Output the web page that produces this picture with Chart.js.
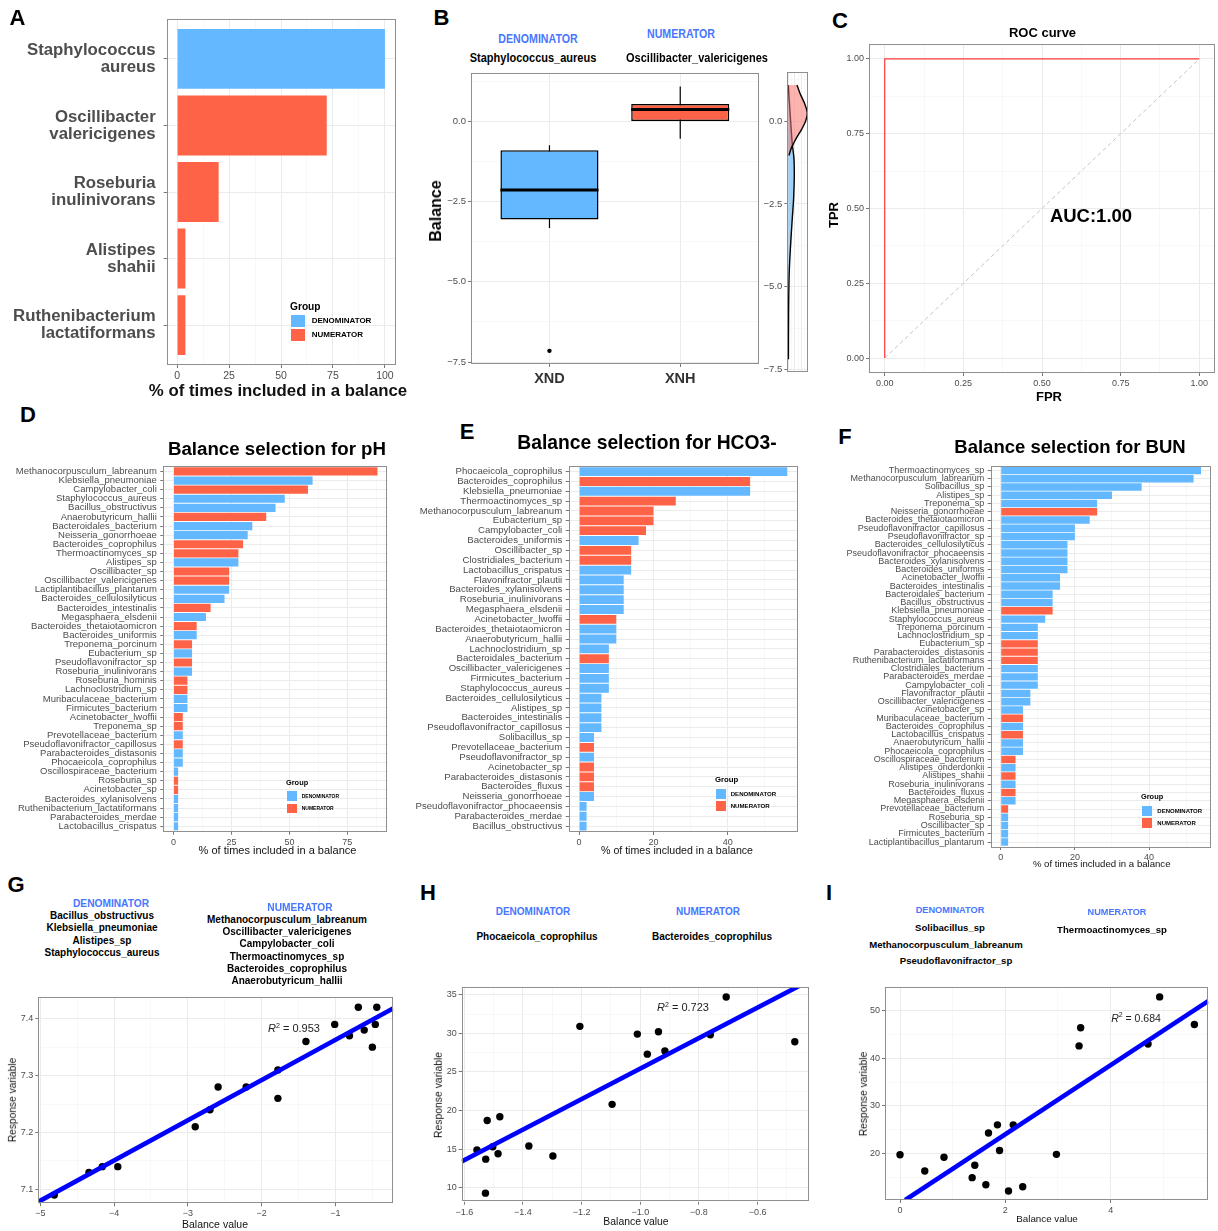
<!DOCTYPE html>
<html><head><meta charset="utf-8">
<script src="https://cdn.jsdelivr.net/npm/chart.js@4.4.1/dist/chart.umd.min.js"></script>
<style>
html,body{margin:0;padding:0;background:#fff;}
#root{position:relative;width:1218px;height:1231px;overflow:hidden;font-family:"Liberation Sans",Arial,sans-serif;}
canvas{position:absolute;}
.t{position:absolute;white-space:nowrap;transform:translate(-50%,-50%);line-height:1;}
.l{position:absolute;white-space:nowrap;transform:translate(0,-50%);line-height:1;}
.r{position:absolute;white-space:nowrap;transform:translate(-50%,-50%) rotate(-90deg);line-height:1;}
.bx{position:absolute;}
</style></head><body><div id="root"></div>
<script>
// ---------------- DATA ----------------
// Panel A
const aNames = [['Staphylococcus','aureus'],['Oscillibacter','valericigenes'],['Roseburia','inulinivorans'],['Alistipes','shahii'],['Ruthenibacterium','lactatiformans']];
const aValues = [100,72,20,4,4];
const aGroups = ['D','N','N','N','N'];
const aTicks = [0,25,50,75,100];

// Panel B (boxplot of balance)
const bCats = ['XND','XNH'];
const bLow = [-3.32,-0.54];
const bQ1 = [-3.06,0.01];
const bMed = [-2.14,0.37];
const bQ3 = [-0.90,0.54];
const bHigh = [-0.74,1.09];
const bOutY = [-7.15];
const bOutCat = [1];
const bTicks = [0,-2.5,-5,-7.5];
// density side panel
const redDensY = [1.09,0.84,0.55,0.25,0.0,-0.25,-0.5,-0.69,-0.84,-1.04];
const redDensX = [26,35,48,57,52,40,25,15,8,2];
const blueDensY = [1.09,0.3,-0.69,-1.14,-1.64,-2.33,-2.93,-3.72,-4.51,-5.6,-7.19];
const blueDensX = [0,5,12,17,18,16,12,7,3,1,0.3];

// Panel C (ROC)
const rocFPR = [0,0,1];
const rocTPR = [0,1,1];
const cTicks = [0,0.25,0.5,0.75,1];

// Panel D (pH)
const dNames = ['Methanocorpusculum_labreanum','Klebsiella_pneumoniae','Campylobacter_coli','Staphylococcus_aureus','Bacillus_obstructivus','Anaerobutyricum_hallii','Bacteroidales_bacterium','Neisseria_gonorrhoeae','Bacteroides_coprophilus','Thermoactinomyces_sp','Alistipes_sp','Oscillibacter_sp','Oscillibacter_valericigenes','Lactiplantibacillus_plantarum','Bacteroides_cellulosilyticus','Bacteroides_intestinalis','Megasphaera_elsdenii','Bacteroides_thetaiotaomicron','Bacteroides_uniformis','Treponema_porcinum','Eubacterium_sp','Pseudoflavonifractor_sp','Roseburia_inulinivorans','Roseburia_hominis','Lachnoclostridium_sp','Muribaculaceae_bacterium','Firmicutes_bacterium','Acinetobacter_lwoffii','Treponema_sp','Prevotellaceae_bacterium','Pseudoflavonifractor_capillosus','Parabacteroides_distasonis','Phocaeicola_coprophilus','Oscillospiraceae_bacterium','Roseburia_sp','Acinetobacter_sp','Bacteroides_xylanisolvens','Ruthenibacterium_lactatiformans','Parabacteroides_merdae','Lactobacillus_crispatus'];
const dValues = [88,60,58,48,44,40,34,32,30,28,28,24,24,24,22,16,14,10,10,8,8,8,8,6,6,6,6,4,4,4,4,4,4,2,2,2,2,2,2,2];
const dGroups = ['N','D','N','D','D','N','D','D','N','N','D','N','N','D','D','N','D','N','D','N','D','N','D','N','N','D','D','N','N','D','N','D','D','D','N','N','D','D','D','D'];
const dTicks = [0,25,50,75];

// Panel E (HCO3-)
const eNames = ['Phocaeicola_coprophilus','Bacteroides_coprophilus','Klebsiella_pneumoniae','Thermoactinomyces_sp','Methanocorpusculum_labreanum','Eubacterium_sp','Campylobacter_coli','Bacteroides_uniformis','Oscillibacter_sp','Clostridiales_bacterium','Lactobacillus_crispatus','Flavonifractor_plautii','Bacteroides_xylanisolvens','Roseburia_inulinivorans','Megasphaera_elsdenii','Acinetobacter_lwoffii','Bacteroides_thetaiotaomicron','Anaerobutyricum_hallii','Lachnoclostridium_sp','Bacteroidales_bacterium','Oscillibacter_valericigenes','Firmicutes_bacterium','Staphylococcus_aureus','Bacteroides_cellulosilyticus','Alistipes_sp','Bacteroides_intestinalis','Pseudoflavonifractor_capillosus','Solibacillus_sp','Prevotellaceae_bacterium','Pseudoflavonifractor_sp','Acinetobacter_sp','Parabacteroides_distasonis','Bacteroides_fluxus','Neisseria_gonorrhoeae','Pseudoflavonifractor_phocaeensis','Parabacteroides_merdae','Bacillus_obstructivus'];
const eValues = [56,46,46,26,20,20,18,16,14,14,14,12,12,12,12,10,10,10,8,8,8,8,8,6,6,6,6,4,4,4,4,4,4,4,2,2,2];
const eGroups = ['D','N','D','N','N','N','N','D','N','N','D','D','D','D','D','N','D','D','D','N','D','D','D','D','D','D','D','D','N','D','N','N','N','D','D','D','D'];
const eTicks = [0,20,40];

// Panel F (BUN)
const fNames = ['Thermoactinomyces_sp','Methanocorpusculum_labreanum','Solibacillus_sp','Alistipes_sp','Treponema_sp','Neisseria_gonorrhoeae','Bacteroides_thetaiotaomicron','Pseudoflavonifractor_capillosus','Pseudoflavonifractor_sp','Bacteroides_cellulosilyticus','Pseudoflavonifractor_phocaeensis','Bacteroides_xylanisolvens','Bacteroides_uniformis','Acinetobacter_lwoffii','Bacteroides_intestinalis','Bacteroidales_bacterium','Bacillus_obstructivus','Klebsiella_pneumoniae','Staphylococcus_aureus','Treponema_porcinum','Lachnoclostridium_sp','Eubacterium_sp','Parabacteroides_distasonis','Ruthenibacterium_lactatiformans','Clostridiales_bacterium','Parabacteroides_merdae','Campylobacter_coli','Flavonifractor_plautii','Oscillibacter_valericigenes','Acinetobacter_sp','Muribaculaceae_bacterium','Bacteroides_coprophilus','Lactobacillus_crispatus','Anaerobutyricum_hallii','Phocaeicola_coprophilus','Oscillospiraceae_bacterium','Alistipes_onderdonkii','Alistipes_shahii','Roseburia_inulinivorans','Bacteroides_fluxus','Megasphaera_elsdenii','Prevotellaceae_bacterium','Roseburia_sp','Oscillibacter_sp','Firmicutes_bacterium','Lactiplantibacillus_plantarum'];
const fValues = [54,52,38,30,26,26,24,20,20,18,18,18,18,16,16,14,14,14,12,10,10,10,10,10,10,10,10,8,8,6,6,6,6,6,6,4,4,4,4,4,4,2,2,2,2,2];
const fGroups = ['D','D','D','D','D','N','D','D','D','D','D','D','D','D','D','D','D','N','D','D','D','N','N','N','D','D','D','D','D','D','N','D','N','D','D','N','D','N','D','N','D','N','D','D','D','D'];
const fTicks = [0,20,40];

// Panel G
const gX = [-4.81,-4.34,-4.16,-3.95,-2.90,-2.70,-2.59,-2.21,-1.78,-1.78,-1.40,-1.01,-0.81,-0.69,-0.61,-0.50,-0.46,-0.44];
const gY = [7.09,7.13,7.14,7.14,7.21,7.24,7.28,7.28,7.31,7.26,7.36,7.39,7.37,7.42,7.38,7.35,7.39,7.42];
const gLineX = [-5.03,-0.22];
const gLineY = [7.078,7.418];
const gXTicks = [-5,-4,-3,-2,-1];
const gYTicks = [7.1,7.2,7.3,7.4];

// Panel H
const hX = [-1.557,-1.527,-1.528,-1.522,-1.503,-1.485,-1.479,-1.380,-1.298,-1.206,-1.096,-1.010,-0.976,-0.938,-0.916,-0.761,-0.707,-0.473];
const hY = [14.9,13.7,9.3,18.7,15.3,14.4,19.2,15.4,14.1,30.9,20.8,29.9,27.3,30.2,27.7,29.8,34.7,28.9];
const hLineX = [-1.609,-0.46];
const hLineY = [13.4,36.1];
const hXTicks = [-1.6,-1.4,-1.2,-1.0,-0.8,-0.6];
const hYTicks = [10,15,20,25,30,35];

// Panel I
const iX = [0,0.47,0.835,1.37,1.42,1.63,1.68,1.85,1.89,2.06,2.15,2.33,2.97,3.40,3.43,4.71,4.93,5.59];
const iY = [19.7,16.3,19.2,14.9,17.5,13.4,24.3,26.0,20.6,12.1,26.0,13.0,19.8,42.6,46.4,43.0,52.9,47.1];
const iLineX = [0.1,5.85];
const iLineY = [10.2,52.0];
const iXTicks = [0,2,4];
const iYTicks = [20,30,40,50];

// ---------------- STYLE / HELPERS ----------------
const BLUE = '#63B8FF', RED = '#FF6347', HEAD = '#4876FF';
const TICKC = '#4D4D4D';
Chart.defaults.font.family = '"Liberation Sans", Arial, sans-serif';
Chart.defaults.color = TICKC;
Chart.defaults.animation = false;
const root = document.getElementById('root');

Chart.register({
  id: 'pborder',
  afterDatasetsDraw(chart) {
    const a = chart.chartArea, c = chart.ctx;
    c.save(); c.strokeStyle = '#8f8f8f'; c.lineWidth = 1;
    c.strokeRect(Math.round(a.left) + 0.5, Math.round(a.top) + 0.5, Math.round(a.right - a.left) - 1, Math.round(a.bottom - a.top) - 1);
    c.restore();
  }
});

function place(L, T, R, B, lsWant, bsWant, ptWant = 8) {
  const cl = Math.floor(L - lsWant), ct = Math.floor(T - ptWant);
  const w = Math.ceil(R - cl + 14), h = Math.ceil(B - ct + bsWant);
  const cv = document.createElement('canvas');
  cv.width = w; cv.height = h;
  cv.style.left = cl + 'px'; cv.style.top = ct + 'px';
  cv.style.width = w + 'px'; cv.style.height = h + 'px';
  root.appendChild(cv);
  return { canvas: cv, ls: L - cl, bs: h - (B - ct), padding: { left: 0, top: T - ct, right: w - (R - cl), bottom: 0 } };
}
const near = (arr, v) => arr.some(m => Math.abs(m - v) < 1e-6);
function minorsOf(majors, min, max) {
  const step = majors.length > 1 ? majors[1] - majors[0] : 1;
  const out = [];
  for (let k = -1; k < majors.length; k++) {
    const v = (k < 0 ? majors[0] - step : majors[k]) + step / 2;
    if (v > min && v < max && !near(majors, v)) out.push(+v.toFixed(6));
  }
  return out;
}
function numAxis(min, max, majors, fmt, fontSize, side, pos, showMinor = true) {
  const minors = showMinor ? minorsOf(majors.slice().sort((a, b) => a - b), min, max) : [];
  const ax = {
    type: 'linear', min, max, offset: false,
    afterBuildTicks: s => { s.ticks = majors.concat(minors).sort((a, b) => a - b).map(v => ({ value: v })); },
    ticks: { autoSkip: false, maxRotation: 0, padding: 2, font: { size: fontSize }, color: TICKC,
      callback: v => (fmt && near(majors, v)) ? fmt(v) : '' },
    grid: { offset: false, drawTicks: true, tickLength: 3,
      color: c => (c.tick && near(majors, c.tick.value)) ? '#EBEBEB' : '#F3F3F3',
      lineWidth: c => (c.tick && near(majors, c.tick.value)) ? 1 : 0.6,
      tickColor: c => (fmt && c.tick && near(majors, c.tick.value)) ? '#777' : 'rgba(0,0,0,0)' },
    border: { display: false }
  };
  if (side === 'y') ax.afterFit = s => { s.width = pos.ls; };
  else ax.afterFit = s => { s.height = pos.bs; };
  return ax;
}
const minus = s => String(s).replace('-', '\u2212');
const baseOpts = pos => ({ responsive: false, animation: false, events: [], layout: { padding: pos.padding },
  plugins: { legend: { display: false }, tooltip: { enabled: false } } });

function barPanel(o) {
  const pos = place(o.L, o.T, o.R, o.B, o.ls, o.bs || 18, o.pt || 12);
  const n = o.names.length;
  const opts = baseOpts(pos);
  opts.indexAxis = 'y';
  opts.scales = {
    x: numAxis(o.xmin, o.xmax, o.ticks, v => String(v), o.tickFont, 'x', pos),
    y: { type: 'linear', min: -0.6, max: n - 0.4, reverse: true, offset: false,
      afterBuildTicks: s => { s.ticks = o.names.map((_, i) => ({ value: i })); },
      afterFit: s => { s.width = pos.ls; },
      ticks: { autoSkip: false, padding: o.labPad, color: TICKC, font: o.labFont, callback: v => o.names[v] },
      grid: { offset: false, color: '#EBEBEB', lineWidth: 1, tickColor: '#777', tickLength: 3 },
      border: { display: false } }
  };
  new Chart(pos.canvas, { type: 'bar',
    data: { datasets: [{ data: o.values.map((v, i) => ({ x: v, y: i })),
      backgroundColor: o.groups.map(g => g === 'N' ? RED : BLUE), borderWidth: 0,
      categoryPercentage: 1, barPercentage: 0.9 }] },
    options: opts });
}

function scatterPanel(o) {
  const pos = place(o.L, o.T, o.R, o.B, 30, 18);
  const opts = baseOpts(pos);
  opts.scales = {
    x: numAxis(o.xmin, o.xmax, o.xt, o.xf, 9, 'x', pos),
    y: numAxis(o.ymin, o.ymax, o.yt, o.yf, 9, 'y', pos)
  };
  new Chart(pos.canvas, { type: 'scatter', data: { datasets: [
    { type: 'scatter', data: o.xs.map((x, i) => ({ x, y: o.ys[i] })), pointRadius: 3.7, backgroundColor: '#000', borderWidth: 0, order: 1 },
    { type: 'line', data: o.lx.map((x, i) => ({ x, y: o.ly[i] })), borderColor: '#0000FF', borderWidth: 4.6, pointRadius: 0, order: 0, fill: false }
  ] }, options: opts });
}

// ---------------- PANEL A ----------------
barPanel({ names: aNames, values: aValues, groups: aGroups, L: 166.7, T: 19, R: 395.3, B: 365, ls: 166.7, pt: 30, bs: 32,
  xmin: -5, xmax: 105, ticks: aTicks, tickFont: 10.5, labPad: 8,
  labFont: { size: 16.8, weight: 'bold', lineHeight: 1.02 } });

// ---------------- PANEL B ----------------
(function () {
  const pos = place(471, 73.3, 758.7, 364, 30, 22);
  const opts = baseOpts(pos);
  opts.scales = {
    x: numAxis(0.4, 2.6, [1, 2], v => bCats[Math.round(v) - 1], 14, 'x', pos, false),
    y: numAxis(-7.56, 1.5, bTicks, v => minus(v.toFixed(1)), 9.5, 'y', pos)
  };
  opts.scales.x.ticks.font = { size: 14.5, weight: 'bold' };
  opts.scales.x.ticks.color = '#333';
  opts.scales.x.ticks.padding = 3;
  const ds = [];
  ds.push({ type: 'bar', data: bCats.map((c, i) => ({ x: i + 1, y: [bQ1[i], bQ3[i]] })),
    backgroundColor: [BLUE, RED], borderColor: '#000', borderWidth: 1.5, borderSkipped: false,
    categoryPercentage: 1, barPercentage: 0.75, order: 5 });
  bCats.forEach((c, i) => {
    ds.push({ type: 'line', data: [{ x: i + 1, y: bLow[i] }, { x: i + 1, y: bHigh[i] }], borderColor: '#000', borderWidth: 1.2, pointRadius: 0, order: 6 });
    ds.push({ type: 'line', data: [{ x: i + 1 - 0.375, y: bMed[i] }, { x: i + 1 + 0.375, y: bMed[i] }], borderColor: '#000', borderWidth: 3, pointRadius: 0, order: 1 });
  });
  ds.push({ type: 'scatter', data: bOutY.map((y, k) => ({ x: bOutCat[k], y })), pointRadius: 2.2, backgroundColor: '#000', borderWidth: 0, order: 0 });
  new Chart(pos.canvas, { type: 'bar', data: { datasets: ds }, options: opts });
})();

// density side panel
(function () {
  const pos = place(787.3, 71.7, 808.3, 375, 24, 4);
  const opts = baseOpts(pos);
  opts.indexAxis = 'y';
  opts.scales = {
    x: numAxis(-3, 60, [0, 20, 40], null, 9, 'x', pos),
    y: numAxis(-7.55, 1.49, bTicks, v => minus(v.toFixed(1)), 9.5, 'y', pos)
  };
  new Chart(pos.canvas, { type: 'line', data: { datasets: [
    { data: blueDensY.map((y, i) => ({ x: blueDensX[i], y })), fill: 'origin', backgroundColor: 'rgba(100,180,240,0.6)', borderColor: '#000', borderWidth: 1.4, pointRadius: 0, tension: 0.35, order: 1 },
    { data: redDensY.map((y, i) => ({ x: redDensX[i], y })), fill: 'origin', backgroundColor: 'rgba(248,118,109,0.55)', borderColor: '#000', borderWidth: 1.4, pointRadius: 0, tension: 0.35, order: 0 }
  ] }, options: opts });
})();

// ---------------- PANEL C ----------------
(function () {
  const pos = place(869, 44, 1215, 373, 30, 18);
  const opts = baseOpts(pos);
  opts.scales = {
    x: numAxis(-0.05, 1.05, cTicks, v => v.toFixed(2), 9, 'x', pos),
    y: numAxis(-0.05, 1.05, cTicks, v => v.toFixed(2), 9, 'y', pos)
  };
  new Chart(pos.canvas, { type: 'scatter', data: { datasets: [
    { type: 'line', data: [{ x: cTicks[0], y: cTicks[0] }, { x: cTicks[4], y: cTicks[4] }], borderColor: '#C4C4C4', borderWidth: 1, borderDash: [4, 3], pointRadius: 0, order: 1 },
    { type: 'line', data: rocFPR.map((x, i) => ({ x, y: rocTPR[i] })), borderColor: '#FF3A3A', borderWidth: 1.2, pointRadius: 0, order: 0 }
  ] }, options: opts });
})();

// ---------------- PANELS D, E, F ----------------
barPanel({ names: dNames, values: dValues, groups: dGroups, L: 163.3, T: 466, R: 387.7, B: 831.7, ls: 162,
  xmin: -4.4, xmax: 92.4, ticks: dTicks, tickFont: 9, labPad: 3.5, labFont: { size: 9.5 } });
barPanel({ names: eNames, values: eValues, groups: eGroups, L: 568.7, T: 465.7, R: 797.7, B: 832, ls: 166,
  xmin: -2.8, xmax: 58.8, ticks: eTicks, tickFont: 9, labPad: 3.5, labFont: { size: 9.6 } });
barPanel({ names: fNames, values: fValues, groups: fGroups, L: 990.7, T: 465.5, R: 1211, B: 847, ls: 160,
  xmin: -2.7, xmax: 56.7, ticks: fTicks, tickFont: 9, labPad: 3.5, labFont: { size: 9 } });

// ---------------- PANELS G, H, I ----------------
scatterPanel({ L: 38.3, T: 997.3, R: 393.3, B: 1203.3, xmin: -5.027, xmax: -0.216, ymin: 7.0756, ymax: 7.4376,
  xt: gXTicks, yt: gYTicks, xf: v => minus(v), yf: v => v.toFixed(1), xs: gX, ys: gY, lx: gLineX, ly: gLineY });
scatterPanel({ L: 461.7, T: 987.3, R: 808.3, B: 1201.7, xmin: -1.609, xmax: -0.427, ymin: 8.19, ymax: 35.96,
  xt: hXTicks, yt: hYTicks, xf: v => minus(v.toFixed(1)), yf: v => String(v), xs: hX, ys: hY, lx: hLineX, ly: hLineY });
scatterPanel({ L: 885, T: 987.3, R: 1208.3, B: 1200, xmin: -0.285, xmax: 5.854, ymin: 10.2, ymax: 54.92,
  xt: iXTicks, yt: iYTicks, xf: v => String(v), yf: v => String(v), xs: iX, ys: iY, lx: iLineX, ly: iLineY });

// ---------------- TEXT ----------------
function tx(html, x, y, o = {}) {
  const d = document.createElement('div');
  d.className = o.rot ? 'r' : (o.left ? 'l' : 't');
  d.innerHTML = html;
  d.style.left = x + 'px'; d.style.top = y + 'px';
  d.style.fontSize = (o.size || 10) + 'px';
  d.style.fontWeight = o.bold ? 'bold' : 'normal';
  d.style.color = o.color || '#000';
  if (o.sx) d.style.transform = 'translate(-50%,-50%) scaleX(' + o.sx + ')';
  root.appendChild(d);
}
function bx(x, y, w, h, c) {
  const d = document.createElement('div'); d.className = 'bx';
  d.style.left = x + 'px'; d.style.top = y + 'px'; d.style.width = w + 'px'; d.style.height = h + 'px'; d.style.background = c;
  root.appendChild(d);
}
function legend(gx, gy, gs, bxX, bw, by1, by2, bh, lx, ls) {
  tx('Group', gx, gy, { left: true, bold: true, size: gs, color: '#000' });
  bx(bxX, by1, bw, bh, BLUE); bx(bxX, by2, bw, bh, RED);
  tx('DENOMINATOR', lx, by1 + bh / 2, { left: true, bold: true, size: ls });
  tx('NUMERATOR', lx, by2 + bh / 2, { left: true, bold: true, size: ls });
}

// panel letters
[['A', 17.5, 18], ['B', 441.5, 17.5], ['C', 840, 21], ['D', 28, 415], ['E', 467, 432], ['F', 845, 437],
 ['G', 16, 885], ['H', 428, 893], ['I', 829, 893]].forEach(p => tx(p[0], p[1], p[2], { bold: true, size: 22 }));

// A
tx('% of times included in a balance', 278, 391, { bold: true, size: 16.8, color: '#111' });
legend(290, 307, 10.2, 291, 14, 315.3, 329, 12, 311.7, 8);

// B
tx('DENOMINATOR', 538, 39, { bold: true, size: 12.5, color: HEAD, sx: 0.85 });
tx('NUMERATOR', 680.7, 34, { bold: true, size: 12.5, color: HEAD, sx: 0.85 });
tx('Staphylococcus_aureus', 532.7, 58, { bold: true, size: 12.5, sx: 0.88 });
tx('Oscillibacter_valericigenes', 696.7, 58, { bold: true, size: 12.5, sx: 0.88 });
tx('Balance', 436, 211, { rot: true, bold: true, size: 16 });

// C
tx('ROC curve', 1042.5, 32, { bold: true, size: 13 });
tx('TPR', 833, 215, { rot: true, bold: true, size: 13 });
tx('FPR', 1049, 396, { bold: true, size: 13 });
tx('AUC:1.00', 1091, 216, { bold: true, size: 18.5 });

// D, E, F
tx('Balance selection for pH', 277, 449, { bold: true, size: 18.7 });
tx('Balance selection for HCO3-', 647, 443, { bold: true, size: 19.3 });
tx('Balance selection for BUN', 1070, 447, { bold: true, size: 18.5 });
tx('% of times included in a balance', 277.5, 850, { size: 11, color: '#111' });
tx('% of times included in a balance', 677, 850, { size: 10.6, color: '#111' });
tx('% of times included in a balance', 1101.7, 864, { size: 9.6, color: '#111' });
legend(286, 783, 7.4, 287.3, 9.5, 791.3, 803.5, 9.6, 301.7, 5);
legend(715, 780, 7.8, 716, 10, 788.7, 800.7, 10, 730.7, 6.1);
legend(1141, 797, 7.4, 1142.3, 10, 805.7, 817.7, 10, 1157.3, 6);

// G
tx('DENOMINATOR', 111, 904, { bold: true, size: 10.2, color: HEAD });
['Bacillus_obstructivus', 'Klebsiella_pneumoniae', 'Alistipes_sp', 'Staphylococcus_aureus'].forEach((s, k) => tx(s, 102, 916 + k * 12.3, { bold: true, size: 10 }));
tx('NUMERATOR', 300, 908, { bold: true, size: 10.2, color: HEAD });
['Methanocorpusculum_labreanum', 'Oscillibacter_valericigenes', 'Campylobacter_coli', 'Thermoactinomyces_sp', 'Bacteroides_coprophilus', 'Anaerobutyricum_hallii'].forEach((s, k) => tx(s, 287, 920 + k * 12.2, { bold: true, size: 10 }));
tx('<i>R</i><sup style="font-size:7px">2</sup> = 0.953', 294, 1028, { size: 11, color: '#222' });
tx('Balance value', 215, 1224, { size: 10.5, color: '#111' });
tx('Response variable', 12.5, 1100, { rot: true, size: 10.2, color: '#111' });

// H
tx('DENOMINATOR', 533, 912, { bold: true, size: 10, color: HEAD });
tx('Phocaeicola_coprophilus', 537, 937, { bold: true, size: 10 });
tx('NUMERATOR', 708, 912, { bold: true, size: 10, color: HEAD });
tx('Bacteroides_coprophilus', 712, 937, { bold: true, size: 10 });
tx('<i>R</i><sup style="font-size:7px">2</sup> = 0.723', 683, 1007, { size: 11, color: '#222' });
tx('Balance value', 636, 1222, { size: 10.4, color: '#111' });
tx('Response variable', 439, 1095, { rot: true, size: 10.4, color: '#111' });

// I
tx('DENOMINATOR', 950, 911, { bold: true, size: 9.2, color: HEAD });
['Solibacillus_sp', 'Methanocorpusculum_labreanum', 'Pseudoflavonifractor_sp'].forEach((s, k) => tx(s, [950, 946, 956][k], 928 + k * 16.7, { bold: true, size: 9.6 }));
tx('NUMERATOR', 1117, 913, { bold: true, size: 9.2, color: HEAD });
tx('Thermoactinomyces_sp', 1112, 930, { bold: true, size: 9.6 });
tx('<i>R</i><sup style="font-size:7px">2</sup> = 0.684', 1136, 1017, { size: 10.5, color: '#222' });
tx('Balance value', 1047, 1219, { size: 9.8, color: '#111' });
tx('Response variable', 864, 1094, { rot: true, size: 10.2, color: '#111' });
</script></body></html>
